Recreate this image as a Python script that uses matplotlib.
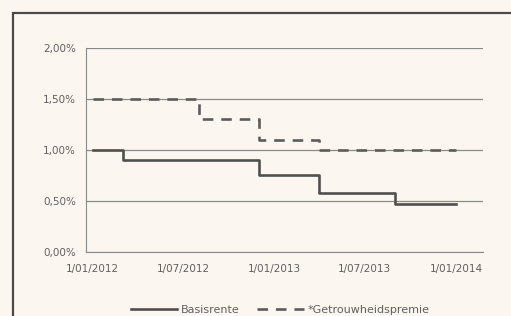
import matplotlib.pyplot as plt
import matplotlib.dates as mdates
import numpy as np
from matplotlib.patches import Rectangle
from matplotlib.lines import Line2D
from matplotlib.ticker import FuncFormatter

# step data (rate in %, valid from date)
basis_dates = ['2012-01-01', '2012-03-01', '2012-12-01', '2013-04-01', '2013-09-01', '2014-01-01']
basis_rates = [1.00, 0.90, 0.75, 0.58, 0.47, 0.47]

premie_dates = ['2012-01-01', '2012-08-01', '2012-12-01', '2013-04-01', '2014-01-01']
premie_rates = [1.50, 1.30, 1.10, 1.00, 1.00]

x_ticks = ['2012-01-01', '2012-07-01', '2013-01-01', '2013-07-01', '2014-01-01']
y_ticks = [0.0, 0.5, 1.0, 1.5, 2.0]

bg = '#fbf6ef'
grey = '#606060'

fig = plt.figure(figsize=(5.11, 3.16), dpi=100, facecolor=bg)
ax = fig.add_axes([0.168, 0.203, 0.777, 0.645], facecolor=bg)

# outer frame of the scanned chart (cut off at right and bottom)
fig.patches.append(Rectangle((13 / 511, -0.1), 1.2, 1 - 13 / 316 + 0.1,
                             transform=fig.transFigure, fill=False,
                             edgecolor='#4a4a4a', linewidth=1.6))

bd = mdates.datestr2num(basis_dates)
pd_ = mdates.datestr2num(premie_dates)

ax.step(bd, basis_rates, where='post', color='#505050', linewidth=1.9, zorder=3)
ax.step(pd_, premie_rates, where='post', color='#5c5c5c', linewidth=1.9,
        linestyle=(0, (4, 3)), zorder=3)

ax.set_ylim(0, 2.0)
ax.set_xlim(mdates.datestr2num('2011-12-18'), mdates.datestr2num('2014-02-24'))
ax.set_yticks(y_ticks)
ax.yaxis.set_major_formatter(FuncFormatter(lambda v, p: f'{v:.2f}%'.replace('.', ',')))
ax.set_xticks(mdates.datestr2num(x_ticks))
ax.set_xticklabels([f'1/{d[5:7]}/{d[:4]}' for d in x_ticks])

ax.grid(axis='y', color='#8a8a8a', linewidth=0.9)
ax.set_axisbelow(True)
for s in ['top', 'right']:
    ax.spines[s].set_visible(False)
ax.spines['left'].set_color('#8a8a8a')
ax.spines['bottom'].set_color('#8a8a8a')
ax.tick_params(length=0, labelsize=7.5, colors=grey, pad=7)
ax.tick_params(axis='x', pad=9)

handles = [Line2D([0], [0], color='#505050', linewidth=1.9),
           Line2D([0], [0], color='#5c5c5c', linewidth=1.9, linestyle=(0, (4, 3)))]
fig.legend(handles, ['Basisrente', '*Getrouwheidspremie'], loc='center',
           bbox_to_anchor=(280 / 511, 1 - 310 / 316), ncol=2, frameon=False,
           fontsize=8, labelcolor=grey, handlelength=4.2, columnspacing=1.6,
           handletextpad=0.3)

fig.savefig('out.png', dpi=100, facecolor=bg)
